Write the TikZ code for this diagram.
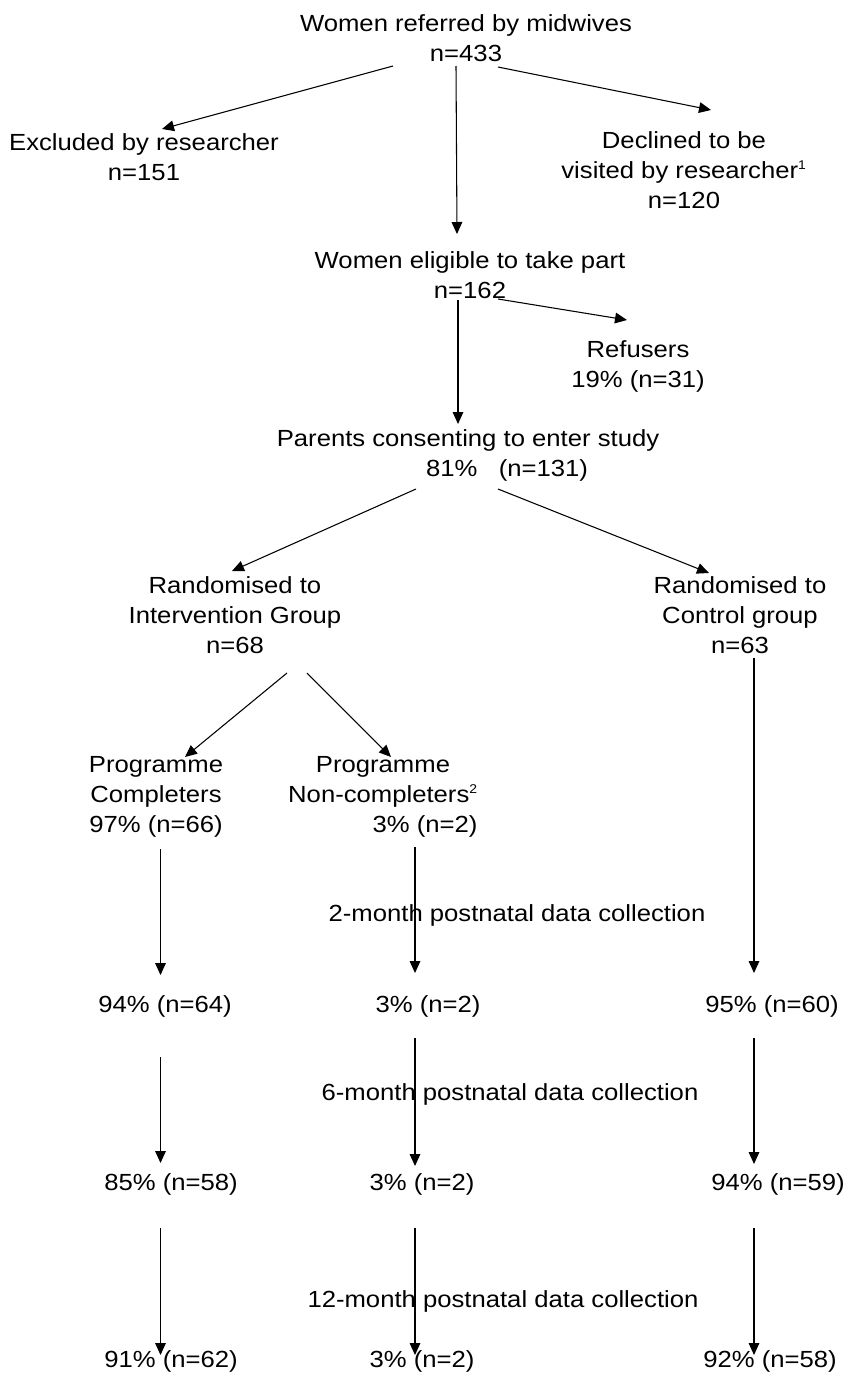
\documentclass[tikz,border=0pt]{standalone}
\usepackage{fontspec}
\setmainfont{Liberation Sans}[FakeStretch=1.1]
\usetikzlibrary{calc,arrows.meta}
\tikzset{
    lbl/.style={align=center, inner sep=0pt, anchor=base,
        font=\fontsize{17.5pt}{22.5pt}\selectfont},
    arr/.style={-{Triangle[length=9pt,width=8pt]}, line width=0.8pt},
}
\newcommand{\supnum}[1]{\textsuperscript{\fontsize{9.5pt}{10pt}\selectfont #1}}

\begin{document}
\begin{tikzpicture}[x=0.75pt,y=-0.75pt]
\useasboundingbox (0,0) rectangle (845,1374);
% recruitment (nodes sit on the baseline of their last line)
\node[lbl] (ref) at (466,61) {Women referred by midwives\\n=433};
\node[lbl] (excl) at (144,180) {Excluded by researcher\\n=151};
\node[lbl] (decl) at (684,208) {Declined to be\\visited by researcher\supnum{1}\\n=120};
\node[lbl] (elig) at (470,298) {Women eligible to take part\\n=162};
\node[lbl] (refus) at (638,387) {Refusers\\19\% (n=31)};
\node[lbl] (cons) at (468,476) {Parents consenting to enter study\\\hspace*{58.5pt}81\%\ \ \ (n=131)};
% groups
\node[lbl] (randI) at (235,653) {Randomised to\\Intervention Group\\n=68};
\node[lbl] (randC) at (740,653) {Randomised to\\Control group\\n=63};
\node[lbl] (compl) at (156,832) {Programme\\Completers\\97\% (n=66)};
\node[lbl] (noncompl) at (383,832) {Programme\\Non-completers\supnum{2}\\\hspace*{63pt}3\% (n=2)};
% follow up
\node[lbl] (lab2) at (517,921) {2-month postnatal data collection};
\node[lbl] (r2a) at (165,1012) {94\% (n=64)};
\node[lbl] (r2b) at (428,1012) {3\% (n=2)};
\node[lbl] (r2c) at (772,1012) {95\% (n=60)};
\node[lbl] (lab6) at (510,1100) {6-month postnatal data collection};
\node[lbl] (r3a) at (171,1190) {85\% (n=58)};
\node[lbl] (r3b) at (422,1190) {3\% (n=2)};
\node[lbl] (r3c) at (778,1190) {94\% (n=59)};
\node[lbl] (lab12) at (503,1307) {12-month postnatal data collection};
\node[lbl] (r4a) at (171,1367) {91\% (n=62)};
\node[lbl] (r4b) at (422,1367) {3\% (n=2)};
\node[lbl] (r4c) at (770,1367) {92\% (n=58)};

\draw[arr] ($(ref.base)+(-73,5)$) -- ($(excl.base)+(18,-51)$);
\draw[arr] ($(ref.base)+(-10,5)$) -- ($(elig.base)+(-13,-64)$);
\draw[arr] ($(ref.base)+(32,6)$) -- ($(decl.base)+(27,-98)$);
\draw[arr] ($(elig.base)+(28,1)$) -- ($(refus.base)+(-11,-67)$);
\draw[arr] ($(elig.base)+(-12,2)$) -- ($(cons.base)+(-10,-52)$);
\draw[arr] ($(cons.base)+(-52,13)$) -- ($(randI.base)+(-3,-82)$);
\draw[arr] ($(cons.base)+(30,13)$) -- ($(randC.base)+(-31,-80)$);
\draw[arr] ($(randI.base)+(52,20)$) -- ($(compl.base)+(29,-75)$);
\draw[arr] ($(randI.base)+(72,20)$) -- ($(noncompl.base)+(8,-75)$);
\draw[arr] ($(randC.base)+(14,5)$) -- ($(r2c.base)+(-18,-39)$);
\draw[arr] ($(compl.base)+(4.5,17)$) -- ($(r2a.base)+(-4.5,-37)$);
\draw[arr] ($(noncompl.base)+(32,15)$) -- ($(r2b.base)+(-13,-39)$);
\draw[arr] ($(r2a.base)+(-4.5,45)$) -- ($(r3a.base)+(-10.5,-27)$);
\draw[arr] ($(r2b.base)+(-13,26)$) -- ($(r3b.base)+(-7,-24)$);
\draw[arr] ($(r2c.base)+(-18,26)$) -- ($(r3c.base)+(-24,-26)$);
\draw[arr] ($(r3a.base)+(-10.5,38)$) -- ($(r4a.base)+(-10.5,-12)$);
\draw[arr] ($(r3b.base)+(-7,38)$) -- ($(r4b.base)+(-7,-12)$);
\draw[arr] ($(r3c.base)+(-24,38)$) -- ($(r4c.base)+(-16,-12)$);
\end{tikzpicture}
\end{document}
